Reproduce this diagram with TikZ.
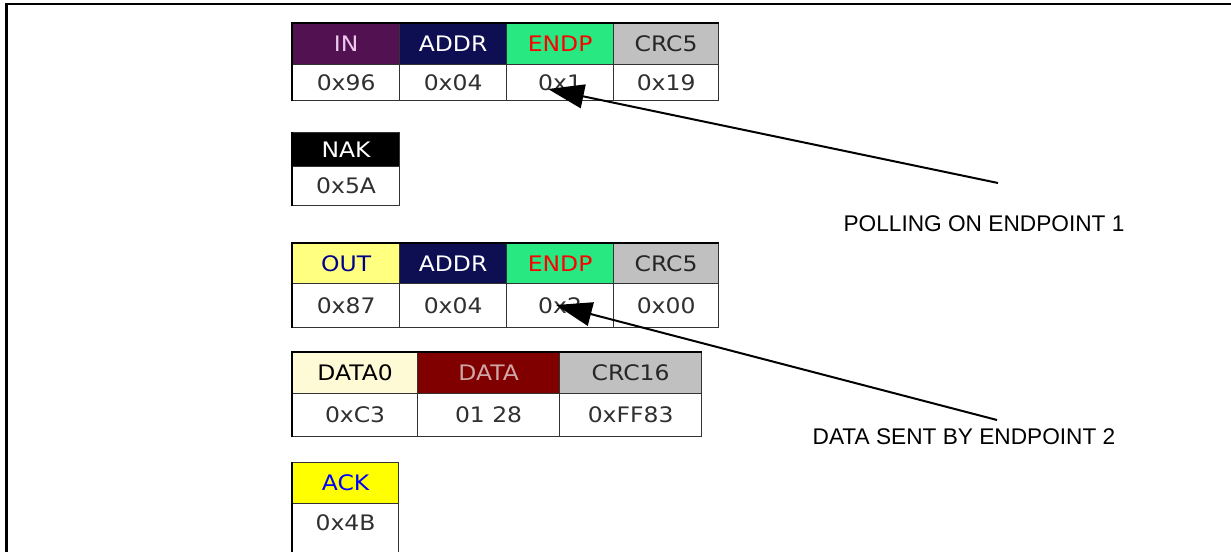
\documentclass[tikz,border=0pt]{standalone}
\usepackage{fontspec}
\setmainfont{Liberation Sans}
\newfontfamily\cellfont{DejaVu Sans}[FakeStretch=1.1]
\usetikzlibrary{arrows.meta}

\definecolor{inbg}{RGB}{82,18,82}
\definecolor{inrose}{RGB}{236,200,236}
\definecolor{addrbg}{RGB}{14,14,82}
\definecolor{endpbg}{RGB}{40,232,130}
\definecolor{crcbg}{RGB}{192,192,192}
\definecolor{outbg}{RGB}{255,255,128}
\definecolor{outblue}{RGB}{0,0,140}
\definecolor{datazbg}{RGB}{255,250,214}
\definecolor{databg}{RGB}{128,0,0}
\definecolor{datarose}{RGB}{206,166,166}
\definecolor{ackbg}{RGB}{255,255,0}
\definecolor{valgray}{RGB}{48,48,48}

\begin{document}
\begin{tikzpicture}[x=0.75pt,y=-0.75pt,
    cell/.style={draw=black!80, line width=0.9pt, inner sep=0pt, anchor=north west,
        text=valgray, font=\cellfont\fontsize{16}{18}\selectfont},
    rowedge/.style={line width=1.8pt},
    note/.style={font=\fontsize{17}{20}\selectfont},
    pointer/.style={-{Triangle[length=27pt,width=18pt]}, line width=1.5pt},
    frame/.style={line width=1.9pt}]
    \clip (0,0) rectangle (1231,552);
    % open frame
    \draw[frame] (1231,4) -- (6.5,4) -- (6.5,552);

    % IN token
    \foreach \nm/\xa/\w/\bg/\fg/\hd/\val in {in/292/107/inbg/inrose/IN/0x96,
        addr/399/107/addrbg/white/ADDR/0x04, endp/506/107/endpbg/red/ENDP/0x1,
        crc/613/105/crcbg/black!85/CRC5/0x19} {
        \node[cell, fill=\bg, text=\fg, minimum width=\w*0.75pt, minimum height=41*0.75pt] (\nm1-h) at (\xa,23) {\hd};
        \node[cell, fill=white, minimum width=\w*0.75pt, minimum height=36*0.75pt] (\nm1-v) at (\xa,64) {\val};
    }
    \draw[rowedge] (in1-v.south west) -- (in1-h.north west) -- (crc1-h.north east);

    % NAK handshake
    \node[cell, fill=black, text=white, minimum width=107*0.75pt, minimum height=34*0.75pt] (nak-h) at (292,132) {NAK};
    \node[cell, fill=white, minimum width=107*0.75pt, minimum height=39*0.75pt] (nak-v) at (292,166) {0x5A};
    \draw[rowedge] (nak-v.south west) -- (nak-h.north west);

    % OUT token
    \foreach \nm/\xa/\w/\bg/\fg/\hd/\val in {out/292/107/outbg/outblue/OUT/0x87,
        addr/399/107/addrbg/white/ADDR/0x04, endp/506/107/endpbg/red/ENDP/0x2,
        crc/613/105/crcbg/black!85/CRC5/0x00} {
        \node[cell, fill=\bg, text=\fg, minimum width=\w*0.75pt, minimum height=40*0.75pt] (\nm2-h) at (\xa,243) {\hd};
        \node[cell, fill=white, minimum width=\w*0.75pt, minimum height=44*0.75pt] (\nm2-v) at (\xa,283) {\val};
    }
    \draw[rowedge] (out2-v.south west) -- (out2-h.north west) -- (crc2-h.north east);

    % DATA0 packet
    \foreach \nm/\xa/\w/\bg/\fg/\hd/\val in {dataz/292/125/datazbg/black/DATA0/0xC3,
        data/417/142/databg/datarose/DATA/01 28, crcs/559/142/crcbg/black!85/CRC16/0xFF83} {
        \node[cell, fill=\bg, text=\fg, minimum width=\w*0.75pt, minimum height=41*0.75pt] (\nm-h) at (\xa,352) {\hd};
        \node[cell, fill=white, minimum width=\w*0.75pt, minimum height=43*0.75pt] (\nm-v) at (\xa,393) {\val};
    }
    \draw[rowedge] (dataz-v.south west) -- (dataz-h.north west) -- (crcs-h.north east);

    % ACK handshake
    \node[cell, fill=ackbg, text=blue, minimum width=106*0.75pt, minimum height=41*0.75pt] (ack-h) at (292,462) {ACK};
    \node[cell, fill=white, text depth=0pt, minimum width=106*0.75pt, minimum height=62*0.75pt] (ack-v) at (292,503) {\raisebox{18pt}{0x4B}};
    \draw[rowedge] (ack-v.south west) -- (ack-h.north west);

    % notes
    \node[note] (poll) at (984,224) {POLLING ON ENDPOINT 1};
    \node[note] (sent) at (964,437) {DATA SENT BY ENDPOINT 2};
    \coordinate (polltail) at (998,183);
    \coordinate (polltip) at (548,89);
    \coordinate (senttail) at (997,420);
    \coordinate (senttip) at (556,305);
    \draw[pointer] (polltail) -- (polltip);
    \draw[pointer] (senttail) -- (senttip);
\end{tikzpicture}
\end{document}
